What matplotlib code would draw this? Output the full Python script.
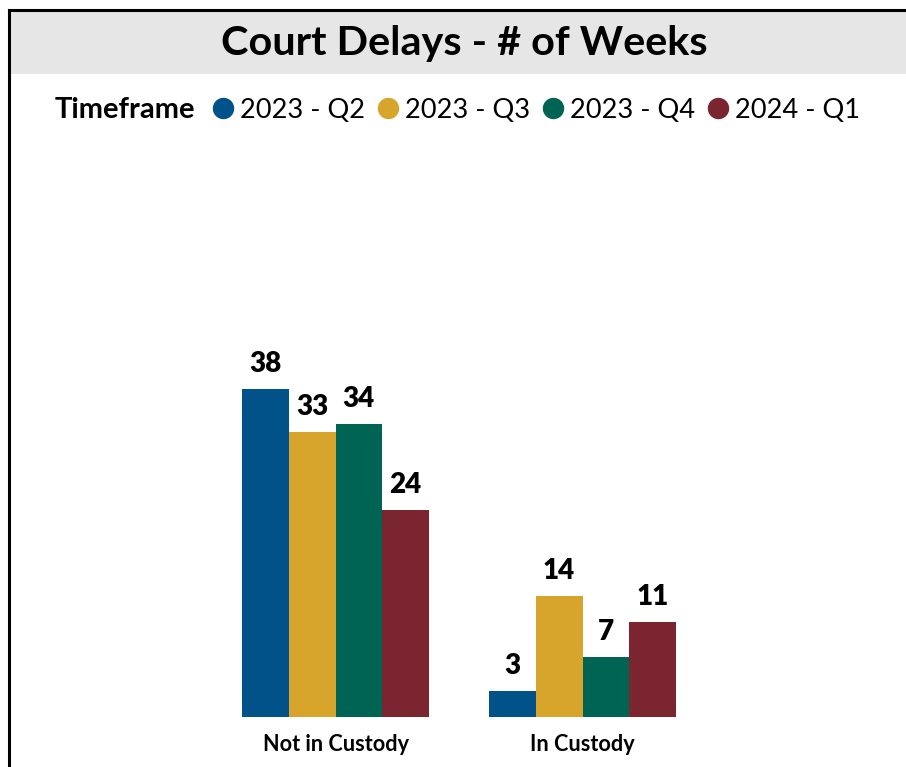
import matplotlib
matplotlib.use("Agg")
import matplotlib.pyplot as plt
from matplotlib.patches import Rectangle
from matplotlib.lines import Line2D
import numpy as np

categories = ["Not in Custody", "In Custody"]
series_names = ["2023 - Q2", "2023 - Q3", "2023 - Q4", "2024 - Q1"]
series_values = {
    "2023 - Q2": [38, 3],
    "2023 - Q3": [33, 14],
    "2023 - Q4": [34, 7],
    "2024 - Q1": [24, 11],
}
colors = ["#005288", "#D7A52C", "#006455", "#7A2530"]
title = "Court Delays - # of Weeks"
legend_title = "Timeframe"

FONT = "Lato"
W, H = 906, 767
fig = plt.figure(figsize=(W / 100, H / 100), dpi=100)

def fx(px):
    return px / W

def fy(py):
    return 1 - py / H

# Frame and title band
fig.patches.append(Rectangle((fx(9), fy(74)), fx(W + 10) - fx(9), fy(11) - fy(74),
                             transform=fig.transFigure, facecolor="#E6E6E6", edgecolor="none", zorder=0))
fig.add_artist(Line2D([fx(8.5), 1.01], [fy(10), fy(10)], transform=fig.transFigure, color="black", lw=2.2))
fig.add_artist(Line2D([fx(8.5), fx(8.5)], [fy(10), -0.01], transform=fig.transFigure, color="black", lw=2.2))

fig.text(fx(464), fy(43), title, ha="center", va="center", fontsize=29.8, fontweight="bold",
         family=FONT, color="black")

# Axes in pixel layout: baseline at y=717, 8.63 px/unit; category spacing 247 px
ax_top, ax_bot = 150, 717
ax_left, ax_right = 9, 906
ax = fig.add_axes([fx(ax_left), fy(ax_bot), fx(ax_right) - fx(ax_left), fy(ax_top) - fy(ax_bot)])
ppu = 8.63
ax.set_ylim(0, (ax_bot - ax_top) / ppu)
c0, step = 335.5, 247.0
ax.set_xlim((ax_left - c0) / step, (ax_right - c0) / step)
ax.axis("off")

n = len(series_names)
bw = 46.75 / step
x = np.arange(len(categories))
for i, (name, col) in enumerate(zip(series_names, colors)):
    offs = (i - (n - 1) / 2) * bw
    vals = series_values[name]
    bars = ax.bar(x + offs, vals, width=bw, color=col, label=name)
    for b, v in zip(bars, vals):
        ax.annotate(str(v), (b.get_x() + b.get_width() / 2, v), xytext=(0, 12.2), textcoords="offset points",
                    ha="center", va="baseline", fontsize=20, fontweight="heavy", family=FONT)

for xi, cat in zip(x, categories):
    ax.annotate(cat, (xi, 0), xytext=(0, -19.5), textcoords="offset points", ha="center", va="center",
                fontsize=15.6, fontweight="bold", family=FONT, annotation_clip=False)

# Legend
fig.text(fx(55), fy(110), legend_title, ha="left", va="center", fontsize=21, fontweight="bold", family=FONT)
handles = [Line2D([], [], marker="o", linestyle="none", markersize=14.4, markerfacecolor=c, markeredgecolor=c)
           for c in colors]
fig.legend(handles, series_names, loc="center left", bbox_to_anchor=(fx(212), fy(110)), ncol=4,
           frameon=False, handletextpad=0.22, columnspacing=0.45, handlelength=0.8, borderaxespad=0,
           borderpad=0, prop={"family": FONT, "size": 19.6})

fig.savefig("out.png", dpi=100)
